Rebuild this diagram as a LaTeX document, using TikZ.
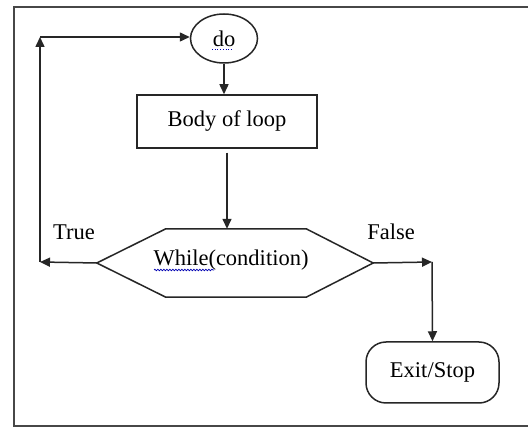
\documentclass[tikz,border=0pt]{standalone}
\usepackage{fontspec}
\setmainfont{Liberation Serif}
\usetikzlibrary{arrows.meta,calc,decorations.pathmorphing,shapes.geometric}
\begin{document}
\begin{tikzpicture}[x=1pt,y=-1pt,
  every node/.style={font=\fontsize{22.5}{26}\selectfont, inner sep=0pt},
  shapeline/.style={draw=black!85, line width=1.5pt},
  conn/.style={draw=black!85, line width=1.5pt, -{Triangle[length=10pt,width=9pt]}},
  frameline/.style={draw=black!72, line width=2.8pt},
  spell/.style={draw=blue!70!black, line width=0.7pt}]
\useasboundingbox (0,0) rectangle (528,427);
\fill[white] (0,0) rectangle (528,427);
\draw[frameline] (540,7) -- (14,7) -- (14,426) -- (540,426);

\node[shapeline, ellipse, minimum width=67pt, minimum height=49pt] (do) at (224,38.5) {do};
\node[shapeline, rectangle, minimum width=180pt, minimum height=53pt] (body) at (227,121.5) {Body of loop};
\node[minimum width=276pt, minimum height=68pt] (cond) at (235,263) {};
\node (condtext) at (231,260) {While(condition)};
\draw[shapeline, line join=round] (cond.west) -- ($(cond.north west)+(69,0)$) -- ($(cond.north east)+(-67,0)$)
   -- (cond.east) -- ($(cond.south east)+(-67,0)$) -- ($(cond.south west)+(69,0)$) -- cycle;
\node[shapeline, rectangle, rounded corners=20pt, minimum width=133pt, minimum height=61pt] (exit) at (432.5,372.5) {Exit/Stop};
\node (true) at (74,232) {True};
\node (false) at (391,232) {False};

\coordinate (tl) at (40,262);
\coordinate (tr) at (40,37);
\coordinate (fr) at (432,262);

\draw[conn] (do.south) -- (do.south |- body.north);
\draw[conn] ($(body.south)+(0,4)$) -- (body.south |- cond.north);
\draw[conn] (cond.west) -- (tl);
\draw[conn] (tl) -- (tr);
\draw[conn] (tr) -- (tr -| do.west);
\draw[conn] (cond.east) -- (fr);
\draw[conn] (fr) -- (exit.north);

% spell-check underlines
\draw[spell, dotted] (212,49) -- (233,49);
\draw[spell, decorate, decoration={snake, amplitude=0.8pt, segment length=3pt}] (154,270) -- (214,270);
\end{tikzpicture}
\end{document}
